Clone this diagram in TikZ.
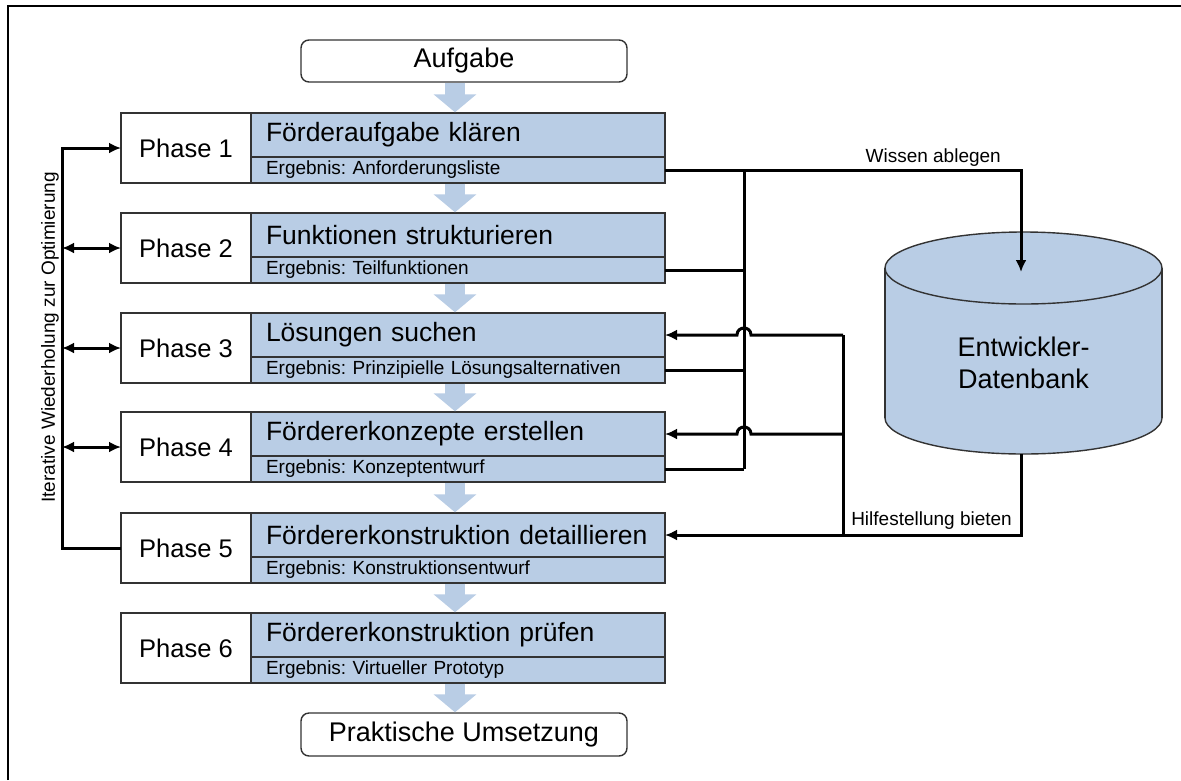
\documentclass[tikz,border=0pt]{standalone}
\usepackage{fontspec}
\setmainfont{Liberation Sans}
\frenchspacing
\usetikzlibrary{arrows.meta,calc}
\definecolor{pblue}{HTML}{B9CDE5}
\begin{document}
\begin{tikzpicture}[x=1pt,y=-1pt,
  conn/.style={line width=3pt, black},
  tip/.style={-{Latex[length=12pt,width=11pt]}},
  dtip/.style={{Latex[length=12pt,width=11pt]}-{Latex[length=12pt,width=11pt]}},
  bord/.style={draw=black!80, line width=1.4pt},
  phbox/.style={bord, fill=white, minimum width=130pt, minimum height=70pt, inner sep=0pt, outer sep=0pt, anchor=north west, font=\fontsize{25.5}{30}\selectfont},
  tbox/.style={bord, fill=pblue, minimum height=44pt, text width=384pt, inner xsep=15pt, inner ysep=0pt, outer sep=0pt, align=left, anchor=north west, font=\fontsize{26.5}{30}\selectfont},
  rbox/.style={tbox, minimum height=26pt, font=\fontsize{19}{22}\selectfont},
  endbox/.style={bord, rounded corners=8pt, fill=white, minimum width=326pt, minimum height=42pt, inner sep=0pt, outer sep=0pt, font=\fontsize{27}{30}\selectfont},
  lab/.style={inner sep=0pt, font=\fontsize{19}{22}\selectfont},
  barrow/.style={line width=20pt, draw=pblue, -{Triangle[length=18pt,width=42pt]}, shorten <=0.7pt, shorten >=0.7pt},
  cylb/.style={draw=black!80, line width=1.4pt}
]
\useasboundingbox (0,0) rectangle (1181,780);
\draw[line width=2.4pt] (8,780) -- (8,6) -- (1181,6);

% start / end boxes
\node[endbox] (aufgabe) at (464,61) {Aufgabe};
\node[endbox, minimum height=43pt] (umsetzung) at (464,734.5) {Praktische Umsetzung};

% phases
\node[phbox] (ph1) at (121,113) {Phase 1};
\node[tbox] (t1) at (251,113) {Förderaufgabe klären};
\node[rbox] (r1) at (251,157) {Ergebnis: Anforderungsliste};

\node[phbox] (ph2) at (121,213) {Phase 2};
\node[tbox] (t2) at (251,213) {Funktionen strukturieren};
\node[rbox] (r2) at (251,257) {Ergebnis: Teilfunktionen};

\node[phbox] (ph3) at (121,313) {Phase 3};
\node[tbox] (t3) at (251,313) {Lösungen suchen};
\node[rbox] (r3) at (251,357) {Ergebnis: Prinzipielle Lösungsalternativen};

\node[phbox] (ph4) at (121,412) {Phase 4};
\node[tbox] (t4) at (251,412) {Fördererkonzepte erstellen};
\node[rbox] (r4) at (251,456) {Ergebnis: Konzeptentwurf};

\node[phbox] (ph5) at (121,513) {Phase 5};
\node[tbox] (t5) at (251,513) {Fördererkonstruktion detaillieren};
\node[rbox] (r5) at (251,557) {Ergebnis: Konstruktionsentwurf};

\node[phbox] (ph6) at (121,613) {Phase 6};
\node[tbox] (t6) at (251,613) {Fördererkonstruktion prüfen};
\node[rbox] (r6) at (251,657) {Ergebnis: Virtueller Prototyp};

% block arrows
\coordinate (ax) at (455,0);
\draw[barrow] (aufgabe.south -| ax) -- (t1.north -| ax);
\draw[barrow] (r1.south -| ax) -- (t2.north -| ax);
\draw[barrow] (r2.south -| ax) -- (t3.north -| ax);
\draw[barrow] (r3.south -| ax) -- (t4.north -| ax);
\draw[barrow] (r4.south -| ax) -- (t5.north -| ax);
\draw[barrow] (r5.south -| ax) -- (t6.north -| ax);
\draw[barrow] (r6.south -| ax) -- (umsetzung.north -| ax);

% iteration loop
\coordinate (lb) at (62,0);
\draw[conn, tip] (ph5.west) -- (lb |- ph5.west) -- (lb |- ph1.west) -- (ph1.west);
\draw[conn, dtip] (lb |- ph2.west) -- (ph2.west);
\draw[conn, dtip] (lb |- ph3.west) -- (ph3.west);
\draw[conn, dtip] (lb |- ph4.west) -- (ph4.west);
\node[lab, rotate=90] (iter) at (50,337.5) {Iterative Wiederholung zur Optimierung};

% database cylinder
\fill[pblue] (1023.5,418) ellipse [x radius=138.5pt, y radius=36pt];
\fill[pblue] (885,268) rectangle (1162,418);
\begin{scope}
  \clip (870,418) rectangle (1180,470);
  \draw[cylb] (1023.5,418) ellipse [x radius=138.5pt, y radius=36pt];
\end{scope}
\draw[cylb] (885,268) -- (885,418);
\draw[cylb] (1162,268) -- (1162,418);
\draw[cylb, fill=pblue] (1023.5,268) ellipse [x radius=138.5pt, y radius=36pt];
\node[align=center, inner sep=0pt, font=\fontsize{27}{32}\selectfont] (db) at (1023.5,363) {Entwickler-\\Datenbank};
\coordinate (dbin) at (1021,272);
\coordinate (dbout) at (1021,454);

% knowledge storage
\draw[conn, tip] (r1.east) -| (dbin);
\node[lab, anchor=base east] (wl) at (1001,162) {Wissen ablegen};

% result bus
\coordinate (b1) at (744,0);
\coordinate (b2) at (843,0);
\draw[conn] (b1 |- r1.east) -- (b1 |- r4.east);
\draw[conn] (r2.east) -- (b1 |- r2.east);
\draw[conn] (r3.east) -- (b1 |- r3.east);
\draw[conn] (r4.east) -- (b1 |- r4.east);

% support bus
\draw[conn] (b2 |- t3.east) -- (b2 |- t5.east);
\draw[conn, tip] (dbout) |- (t5.east);
\node[lab, anchor=base east] (hl) at (1012,525) {Hilfestellung bieten};
\draw[conn, tip] (b2 |- t3.east) -- ($(b1 |- t3.east)+(7,0)$) .. controls +(0,-9.3) and +(0,-9.3) .. ($(b1 |- t3.east)+(-7,0)$) -- (t3.east);
\draw[conn, tip] (b2 |- t4.east) -- ($(b1 |- t4.east)+(7,0)$) .. controls +(0,-9.3) and +(0,-9.3) .. ($(b1 |- t4.east)+(-7,0)$) -- (t4.east);
\end{tikzpicture}
\end{document}
